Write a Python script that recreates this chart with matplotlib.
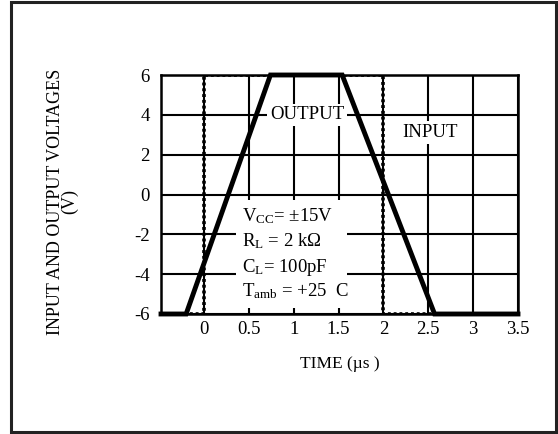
import matplotlib
matplotlib.use("Agg")
import matplotlib.pyplot as plt
from matplotlib.patches import Rectangle

plt.rcParams['font.family'] = ['Liberation Serif', 'DejaVu Serif']
plt.rcParams['mathtext.fontset'] = 'custom'
plt.rcParams['mathtext.rm'] = 'Liberation Serif'
plt.rcParams['mathtext.it'] = 'Liberation Serif'

# Data
input_t = [-0.48, 0.0, 0.0, 2.0, 2.0, 3.5]
input_v = [-6, -6, 6, 6, -6, -6]
output_t = [-0.48, -0.2, 0.74, 1.54, 2.57, 3.5]
output_v = [-6, -6, 6, 6, -6, -6]
x_ticks = [0, 0.5, 1, 1.5, 2, 2.5, 3, 3.5]
x_ticklabels = ["0", "0.5", "1", "1.5", "2", "2.5", "3", "3.5"]
y_ticks = [-6, -4, -2, 0, 2, 4, 6]
y_ticklabels = ["-6", "-4", "-2", "0", "2", "4", "6"]

W, H = 558, 434
fig = plt.figure(figsize=(W / 100, H / 100), dpi=100)
ax = fig.add_axes([161 / W, 1 - 314 / H, (518 - 161) / W, (314 - 75) / H])

ax.set_xlim(-0.48, 3.5)
ax.set_ylim(-6, 6)
ax.set_xticks(x_ticks)
ax.set_xticklabels(x_ticklabels)
ax.set_yticks(y_ticks)
ax.set_yticklabels(y_ticklabels)
ax.tick_params(length=0, labelsize=13.5, pad=8)
ax.tick_params(axis='x', pad=5)
for s in ax.spines.values():
    s.set_linewidth(1.8)
    s.set_color('black')
ax.grid(True, color='black', linewidth=1.5, zorder=1)
ax.set_axisbelow(True)

ax.plot(input_t, input_v, color='black', linestyle=(0, (0.8, 0.8)), linewidth=2.6, zorder=3)
ax.plot(output_t, output_v, color='black', linewidth=3.5, solid_joinstyle='miter', zorder=4, clip_on=False)

ax.text(1.15, 4.0, "OUTPUT", fontsize=13.5, ha='center', va='center', zorder=2,
        bbox=dict(facecolor='white', edgecolor='none', pad=2))
ax.text(2.52, 3.1, "INPUT", fontsize=13.5, ha='center', va='center', zorder=2,
        bbox=dict(facecolor='white', edgecolor='none', pad=2))

# parameter block with white background
ax.add_patch(Rectangle((0.36, -5.7), 1.23, 5.4, facecolor='white', edgecolor='none', zorder=1.5))
params = [
    (-1.1, r"V$_{\mathregular{CC}}$= ±15V"),
    (-2.35, r"R$_{\mathregular{L}}$ = 2 kΩ"),
    (-3.65, r"C$_{\mathregular{L}}$= 100pF"),
    (-4.85, r"T$_{\mathregular{amb}}$ = +25  C"),
]
for y, t in params:
    ax.text(0.42, y, t, fontsize=13.5, ha='left', va='center', zorder=2)

ax.set_xlabel("TIME (µs )", fontsize=12.5, labelpad=13)
ax.set_ylabel("INPUT AND OUTPUT VOLTAGES\n(V)", fontsize=13, linespacing=0.75,
              va='center', ha='center')
ax.yaxis.set_label_coords(-0.275, 0.47)

fig.patches.append(Rectangle((11 / W, 2 / H), (556 - 11) / W, (432 - 2) / H,
                             transform=fig.transFigure, fill=False,
                             edgecolor='#222222', linewidth=2.2))

fig.savefig("out.png", dpi=100)
